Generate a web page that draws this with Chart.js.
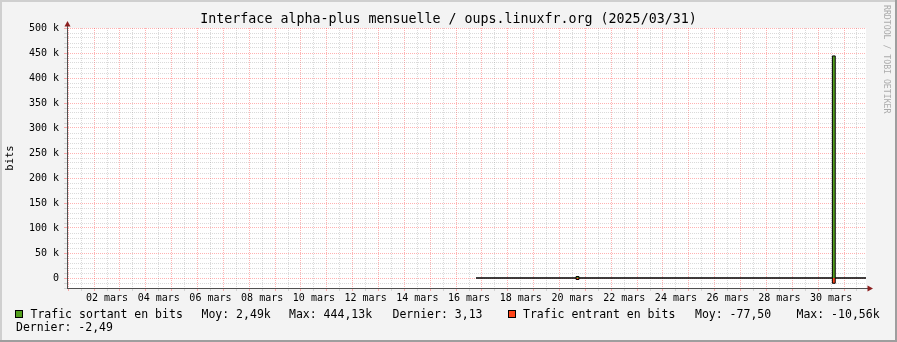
<!DOCTYPE html>
<html>
<head>
<meta charset="utf-8">
<script src="https://cdn.jsdelivr.net/npm/chart.js@4.4.1/dist/chart.umd.min.js"></script>
<style>
  html, body { margin: 0; padding: 0; background: #F3F3F3; }
  canvas { display: block; }
</style>
</head>
<body>
<canvas id="rrd" width="897" height="342"></canvas>
<script>
const titre = 'Interface alpha-plus mensuelle / oups.linuxfr.org (2025/03/31)';

// temps en jours du mois (1.0 = 01 mars 00:00)
const sortantT = [16.77, 20.64, 20.75, 30.55, 30.66, 31.85];
const sortantV = [3, 3000, 3, 444130, 3, 3.13];
const entrantT = [16.77, 20.64, 20.75, 30.55, 30.66, 31.85];
const entrantV = [-2, -3000, -2, -10560, -2, -2.49];

const labelJours = [2, 4, 6, 8, 10, 12, 14, 16, 18, 20, 22, 24, 26, 28, 30];
const labelsX = ['02 mars', '04 mars', '06 mars', '08 mars', '10 mars', '12 mars', '14 mars', '16 mars',
                 '18 mars', '20 mars', '22 mars', '24 mars', '26 mars', '28 mars', '30 mars'];
const valeursY = [0, 50000, 100000, 150000, 200000, 250000, 300000, 350000, 400000, 450000, 500000];
const labelsY = ['0', '50 k', '100 k', '150 k', '200 k', '250 k', '300 k', '350 k', '400 k', '450 k', '500 k'];

const legendeSortant = ['Trafic sortant en bits', 'Moy: 2,49k', 'Max: 444,13k', 'Dernier: 3,13'];
const legendeEntrant = ['Trafic entrant en bits', 'Moy: -77,50', 'Max: -10,56k', 'Dernier: -2,49'];

const MONO = 'DejaVu Sans Mono';
const VERT = '#54A01E';
const ROUGE = '#FF4419';
const GRID = 'rgba(140,140,140,0.32)';
const MGRID = 'rgba(255,30,30,0.34)';
const AXE = '#505050';
const FLECHE = '#8B1E1E';

const rrdDecor = {
  id: 'rrdDecor',
  beforeDraw(chart) {
    const { ctx, width, height, chartArea: a } = chart;
    ctx.save();
    ctx.fillStyle = '#F3F3F3';
    ctx.fillRect(0, 0, width, height);
    ctx.fillStyle = '#FFFFFF';
    ctx.fillRect(a.left, a.top, a.right - a.left, a.bottom - a.top);
    // cadre 3D
    ctx.fillStyle = '#CFCFCF';
    ctx.fillRect(0, 0, width, 2);
    ctx.fillRect(0, 0, 2, height);
    ctx.fillStyle = '#9E9E9E';
    ctx.fillRect(0, height - 2, width, 2);
    ctx.fillRect(width - 2, 0, 2, height);
    // titre
    ctx.font = '13.3px "' + MONO + '"';
    ctx.fillStyle = '#000';
    ctx.textAlign = 'center';
    ctx.textBaseline = 'middle';
    ctx.fillText(titre, 448.5, 19.5);
    ctx.restore();
  },
  afterDraw(chart) {
    const { ctx, chartArea: a } = chart;
    ctx.save();
    // prolongement des axes + fleches
    ctx.strokeStyle = AXE;
    ctx.lineWidth = 1;
    ctx.beginPath();
    ctx.moveTo(a.left + 0.5, a.top);
    ctx.lineTo(a.left + 0.5, a.top - 4);
    ctx.moveTo(a.right, a.bottom + 0.5);
    ctx.lineTo(a.right + 3, a.bottom + 0.5);
    ctx.stroke();
    ctx.fillStyle = FLECHE;
    ctx.beginPath();
    ctx.moveTo(a.left + 0.5, a.top - 7);
    ctx.lineTo(a.left - 2.5, a.top - 1.5);
    ctx.lineTo(a.left + 3.5, a.top - 1.5);
    ctx.closePath();
    ctx.fill();
    ctx.beginPath();
    ctx.moveTo(a.right + 7, a.bottom + 0.5);
    ctx.lineTo(a.right + 1.5, a.bottom - 2.5);
    ctx.lineTo(a.right + 1.5, a.bottom + 3.5);
    ctx.closePath();
    ctx.fill();

    // legende
    ctx.font = '11.5px "' + MONO + '"';
    ctx.textBaseline = 'middle';
    ctx.fillStyle = '#000';
    const boite = (x, y, c) => {
      ctx.fillStyle = c;
      ctx.fillRect(x, y, 8, 8);
      ctx.strokeStyle = '#000';
      ctx.strokeRect(x + 0.5, y + 0.5, 7, 7);
      ctx.fillStyle = '#000';
    };
    boite(15, 310, VERT);
    const xs1 = [30.5, 201.5, 289, 392.5];
    legendeSortant.forEach((t, i) => ctx.fillText(t, xs1[i], 315));
    boite(508, 310, ROUGE);
    const xs2 = [523, 695, 796.5];
    for (let i = 0; i < 3; i++) ctx.fillText(legendeEntrant[i], xs2[i], 315);
    ctx.fillText(legendeEntrant[3], 16, 328.5);

    // signature verticale
    ctx.translate(882.5, 5);
    ctx.rotate(Math.PI / 2);
    ctx.font = '8.2px "' + MONO + '"';
    ctx.fillStyle = '#ABABAB';
    ctx.textBaseline = 'middle';
    ctx.fillText('RRDTOOL / TOBI OETIKER', 0, -4);
    ctx.restore();
  }
};

new Chart(document.getElementById('rrd'), {
  type: 'line',
  data: {
    datasets: [{
      label: 'Trafic sortant en bits',
      data: sortantT.map((t, i) => ({ x: t, y: sortantV[i] })),
      borderColor: '#000',
      borderWidth: 1,
      backgroundColor: VERT,
      fill: 'origin',
      stepped: 'before',
      pointRadius: 0
    }, {
      label: 'Trafic entrant en bits',
      data: entrantT.map((t, i) => ({ x: t, y: entrantV[i] })),
      borderColor: '#000',
      borderWidth: 1,
      backgroundColor: ROUGE,
      fill: 'origin',
      stepped: 'before',
      pointRadius: 0
    }]
  },
  options: {
    responsive: false,
    animation: false,
    layout: { padding: { top: 28, left: 0, right: 31, bottom: 0 } },
    scales: {
      x: {
        type: 'linear',
        min: 0.953,
        max: 31.85,
        afterBuildTicks: s => {
          const t = [];
          for (let v = 1; v <= 31.5; v += 0.5) t.push({ value: v });
          s.ticks = t;
        },
        afterFit: s => { s.height = 54; },
        grid: {
          color: c => Number.isInteger(c.tick.value) ? MGRID : GRID,
          tickLength: 3,
          lineWidth: 1
        },
        border: { color: AXE, dash: [1, 1] },
        ticks: {
          autoSkip: false,
          maxRotation: 0,
          padding: 1,
          color: '#000',
          font: { family: MONO, size: 10 },
          callback: v => {
            const i = labelJours.indexOf(v - 0.5);
            return i >= 0 ? labelsX[i] : '';
          }
        }
      },
      y: {
        min: -20000,
        max: 500000,
        afterBuildTicks: s => {
          const t = [];
          for (let v = -20000; v <= 500000; v += 10000) t.push({ value: v });
          s.ticks = t;
        },
        afterFit: s => { s.width = 67; },
        grid: {
          color: c => c.tick.value % 50000 === 0 ? MGRID : GRID,
          tickLength: 3,
          lineWidth: 1
        },
        border: { color: AXE, dash: [1, 1] },
        ticks: {
          autoSkip: false,
          padding: 5,
          color: '#000',
          font: { family: MONO, size: 10 },
          callback: v => {
            const i = valeursY.indexOf(v);
            return i >= 0 ? labelsY[i] : '';
          }
        },
        title: {
          display: true,
          text: 'bits',
          color: '#000',
          font: { family: MONO, size: 10.5 },
          padding: { top: 4, bottom: 0 }
        }
      }
    },
    plugins: {
      legend: { display: false },
      tooltip: { enabled: false }
    }
  },
  plugins: [rrdDecor]
});
</script>
</body>
</html>
